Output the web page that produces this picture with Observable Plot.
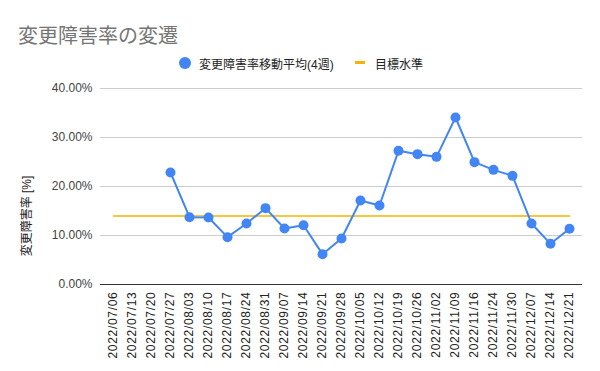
<!DOCTYPE html>
<html><head><meta charset="utf-8">
<script src="https://cdn.jsdelivr.net/npm/d3@7"></script>
<script src="https://cdn.jsdelivr.net/npm/@observablehq/plot@0.6"></script>
<style>
body{margin:0;background:#fff;font-family:"Liberation Sans",Arial,"Noto Sans CJK JP",sans-serif;}
#wrap{position:relative;width:600px;height:371px;overflow:hidden;}
#title{position:absolute;left:18px;top:20px;font-size:20px;color:#757575;}
#legend{position:absolute;top:55px;left:0;width:600px;font-size:12px;color:#222;}
.sw{position:absolute;white-space:nowrap;}
#ylab{position:absolute;left:25px;top:216px;font-size:12px;color:#222;white-space:nowrap;transform:translate(-50%,-50%) rotate(-90deg);}
#chart{position:absolute;left:0;top:80px;}
g[aria-label="x-axis tick label"] text{letter-spacing:0.7px;}
</style></head>
<body><div id="wrap">
<div id="title">変更障害率の変遷</div>
<div id="legend">
  <span class="sw" style="left:179px;top:2px;width:12px;height:12px;border-radius:50%;background:#4285F4"></span>
  <span class="sw" id="lg1" style="left:199px;top:0px"></span>
  <span class="sw" style="left:355px;top:6px;width:10px;height:3px;background:#F4B400"></span>
  <span class="sw" id="lg2" style="left:375px;top:0px"></span>
</div>
<div id="ylab"></div>
<div id="chart"></div>
</div>
<script>
const dates = ["2022/07/06","2022/07/13","2022/07/20","2022/07/27","2022/08/03","2022/08/10","2022/08/17","2022/08/24","2022/08/31","2022/09/07","2022/09/14","2022/09/21","2022/09/28","2022/10/05","2022/10/12","2022/10/19","2022/10/26","2022/11/02","2022/11/09","2022/11/16","2022/11/24","2022/11/30","2022/12/07","2022/12/14","2022/12/21"];
const rates = [null,null,null,0.2286,0.1374,0.1367,0.0966,0.1245,0.1558,0.1143,0.1210,0.0619,0.0939,0.1714,0.1612,0.2728,0.2660,0.2605,0.3408,0.2497,0.2340,0.2217,0.1245,0.0830,0.1136];
const target = 0.14;
const yTicks = [0,0.1,0.2,0.3,0.4];
const seriesName = "変更障害率移動平均(4週)";
const targetName = "目標水準";
const yLabel = "変更障害率 [%]";

document.getElementById("lg1").textContent = seriesName;
document.getElementById("lg2").textContent = targetName;
document.getElementById("ylab").textContent = yLabel;

const pts = dates.map((d,i)=>({date:d, v:rates[i]})).filter(d=>d.v!=null);
const tgt = dates.map(d=>({date:d, v:target}));

const chart = Plot.plot({
  width:600, height:291,
  marginTop:8, marginBottom:87, marginLeft:100, marginRight:18,
  style:{fontFamily:'"Liberation Sans",Arial,"Noto Sans CJK JP",sans-serif', fontSize:"12px", color:"#222"},
  x:{type:"point", domain:dates, padding:0.5, label:null},
  y:{domain:[0,0.4], label:null},
  marks:[
    Plot.gridY(yTicks,{stroke:"#ccc", strokeOpacity:1}),
    Plot.line(tgt,{x:"date", y:"v", stroke:"#F4B400", strokeWidth:1.5}),
    Plot.ruleY([0],{stroke:"#333", strokeWidth:1}),
    Plot.line(pts,{x:"date", y:"v", stroke:"#4285F4", strokeWidth:2}),
    Plot.dot(pts,{x:"date", y:"v", r:5, fill:"#4285F4"}),
    Plot.axisY(yTicks,{tickFormat:d3.format(".2%"), tickSize:0, tickPadding:8, label:null, fontSize:12, fill:"#444"}),
    Plot.axisX({tickRotate:-90, tickSize:0, tickPadding:7, label:null, fontSize:12, fill:"#222"})
  ]
});
document.getElementById("chart").appendChild(chart);
</script>
</body></html>
